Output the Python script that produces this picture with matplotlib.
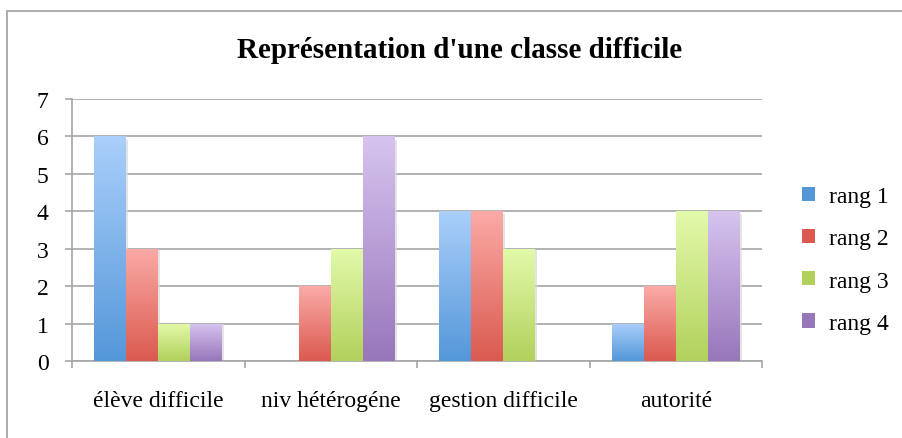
import numpy as np
import matplotlib.pyplot as plt
from matplotlib.patches import Rectangle, Patch
from matplotlib.colors import LinearSegmentedColormap

categories = ["élève difficile", "niv hétérogéne", "gestion difficile", "autorité"]
series = ["rang 1", "rang 2", "rang 3", "rang 4"]
rang1 = [6, 0, 4, 1]
rang2 = [3, 2, 4, 2]
rang3 = [1, 3, 3, 4]
rang4 = [1, 6, 0, 4]
values = [rang1, rang2, rang3, rang4]

# (top, bottom) gradient colours, Excel style
grads = [("#aacffb", "#5497d9"),
         ("#fbaaa6", "#da5a4f"),
         ("#e3faab", "#b2d15c"),
         ("#d6c4ef", "#9876ba")]

plt.rcParams["font.family"] = ["Liberation Serif", "DejaVu Serif"]

fig = plt.figure(figsize=(9.02, 4.39), dpi=100)
ax = fig.add_axes([72 / 902, 1 - 362 / 439, 690 / 902, 262 / 439])

# chart frame (cut by image at right/bottom)
fig.patches.append(Rectangle((7 / 902, -0.5), 2.0, 1 - 12 / 439 + 0.5,
                             transform=fig.transFigure, fill=False,
                             edgecolor="#a6a6a6", linewidth=1.3))

x = np.arange(len(categories))
w = 0.1855
grad = np.linspace(0, 1, 256).reshape(-1, 1)
for i, (vals, (ctop, cbot)) in enumerate(zip(values, grads)):
    cmap = LinearSegmentedColormap.from_list(f"g{i}", [cbot, ctop])
    pos = x + (i - 1.5) * w
    bars = ax.bar(pos, vals, width=w, color="none", edgecolor="none", zorder=3)
    for b in bars:
        h = b.get_height()
        if h <= 0:
            continue
        bx, bw = b.get_x(), b.get_width()
        # soft shadow on the right
        ax.add_patch(Rectangle((bx + bw, 0), 0.012, h * 0.985, facecolor="#d9d9d9",
                               edgecolor="none", zorder=2.5, alpha=0.7))
        im = ax.imshow(grad, cmap=cmap, origin="lower", aspect="auto",
                       extent=[bx, bx + bw, 0, h], zorder=3)
        im.set_clip_path(b)

ax.set_xlim(-0.5, 3.5)
ax.set_ylim(0, 7)
ax.set_yticks(range(0, 8))
ax.set_xticks(x)
ax.set_xticklabels(categories)
ax.set_xticks(np.arange(-0.5, 4.0, 1.0), minor=True)
ax.grid(axis="y", color="#a6a6a6", linewidth=1.2, zorder=0)
ax.set_axisbelow(True)

for s in ["top", "right"]:
    ax.spines[s].set_visible(False)
for s in ["left", "bottom"]:
    ax.spines[s].set_color("#a6a6a6")
    ax.spines[s].set_linewidth(1.2)

ax.tick_params(axis="y", length=5, width=1.2, color="#a6a6a6", pad=12, labelsize=17)
ax.tick_params(axis="x", which="major", length=0, pad=21, labelsize=17)
ax.tick_params(axis="x", which="minor", length=5, width=1.2, color="#a6a6a6")

fig.text(460 / 902, 1 - 51 / 439, "Représentation d'une classe difficile",
         ha="center", va="center", fontsize=21, fontweight="bold")

handles = []
for ctop, cbot in grads:
    handles.append(Patch(facecolor=cbot, edgecolor="none"))
fig.legend(handles, series, loc="center left", bbox_to_anchor=(802 / 902, 1 - 261 / 439),
           frameon=False, fontsize=17, handlelength=0.55, handleheight=0.55,
           handletextpad=0.6, labelspacing=0.9, borderaxespad=0, borderpad=0)

plt.savefig("out.png", dpi=100)
